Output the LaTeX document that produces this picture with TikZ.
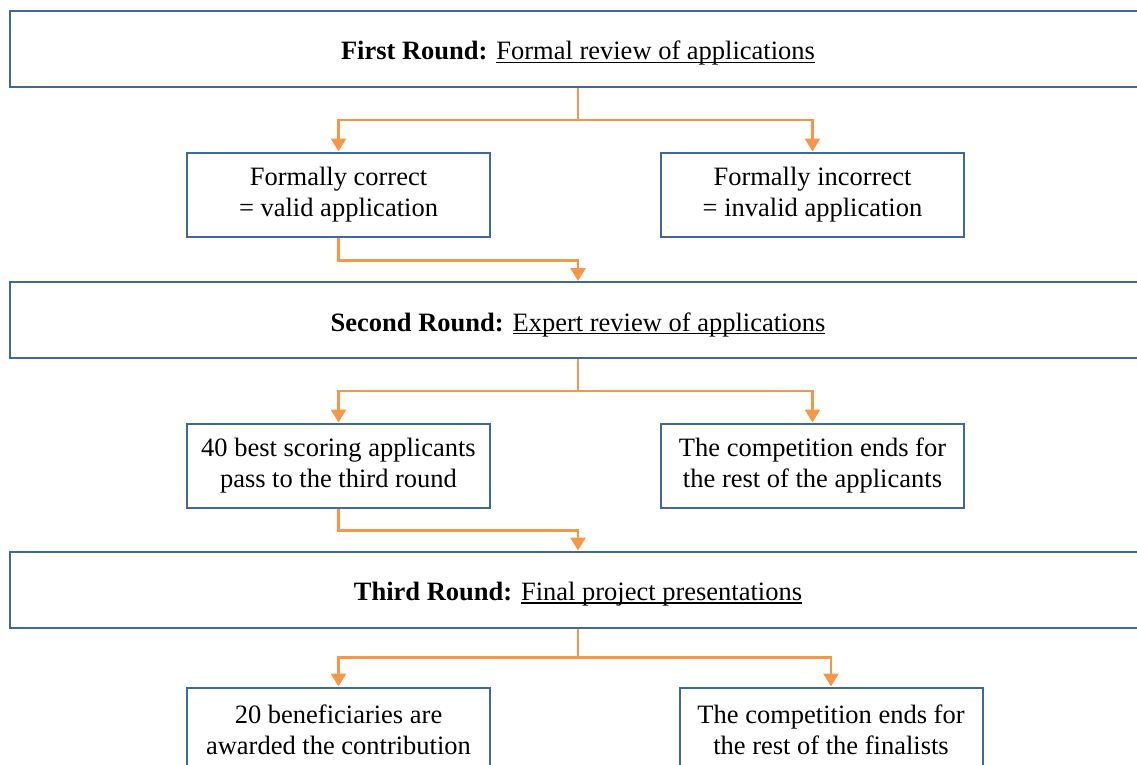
\documentclass[tikz,border=0pt]{standalone}
\usepackage{fontspec}
\setmainfont{Liberation Serif}
\usetikzlibrary{positioning,arrows.meta}

\definecolor{boxblue}{HTML}{41679D}
\definecolor{flowor}{HTML}{F79646}
\newcommand\ultext[1]{\setbox0\hbox{#1}\rlap{\rule[-3.2pt]{\wd0}{1.3pt}}\box0}

\begin{document}
\begin{tikzpicture}[x=1pt, y=-1pt,
	every node/.style={draw=boxblue, line width=2pt, fill=white, align=center, inner sep=0pt,
		font=\fontsize{26.5}{31}\selectfont},
	round/.style={minimum width=1136pt, minimum height=76pt, text height=26pt, text depth=4pt},
	result/.style={minimum width=303pt, minimum height=84pt},
	flow/.style={draw=flowor, line width=2.8pt, -{Triangle[width=15pt,length=13pt]}}]
	\useasboundingbox (0,0) rectangle (1137,765);
	\clip (0,0) rectangle (1137,765);
	% rounds
	\node[round] (R1) at (578,49) {\textbf{First Round:} \ultext{Formal review of applications}};
	\node[round] (R2) at (578,320) {\textbf{Second Round:} \ultext{Expert review of applications}};
	\node[round] (R3) at (578,589.5) {\textbf{Third Round:} \ultext{Final project presentations}};
	% outcomes
	\node[result] (V1) at (338.5,194.5) {Formally correct\\= valid application};
	\node[result] (N1) at (812.5,194.5) {Formally incorrect\\= invalid application};
	\node[result] (V2) at (338.5,465.5) {40 best scoring applicants\\pass to the third round};
	\node[result] (N2) at (812.5,465.5) {The competition ends for\\the rest of the applicants};
	\node[result] (V3) at (338.5,729.5) {20 beneficiaries are\\awarded the contribution};
	\node[result] (N3) at (831,729.5) {The competition ends for\\the rest of the finalists};
	% connectors
	\draw[flow] (R1.south) -- ++(0,32) -| (V1.north);
	\draw[flow] (R1.south) -- ++(0,32) -| (N1.north);
	\draw[flow] (V1.south) -- ++(0,23) -| (R2.north);
	\draw[flow] (R2.south) -- ++(0,32) -| (V2.north);
	\draw[flow] (R2.south) -- ++(0,32) -| (N2.north);
	\draw[flow] (V2.south) -- ++(0,22) -| (R3.north);
	\draw[flow] (R3.south) -- ++(0,29) -| (V3.north);
	\draw[flow] (R3.south) -- ++(0,29) -| (N3.north);
\end{tikzpicture}
\end{document}
